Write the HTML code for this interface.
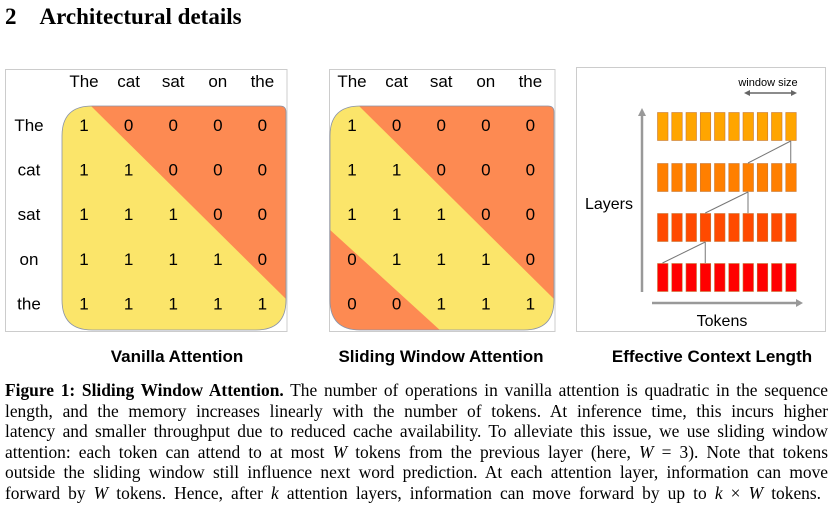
<!DOCTYPE html>
<html><head><meta charset="utf-8"><style>
body{margin:0;width:838px;height:521px;background:#fff;position:relative;overflow:hidden;font-family:"Liberation Sans",sans-serif}
.h{position:absolute;left:5px;top:4px;font:bold 23px "Liberation Serif",serif}
.cap{position:absolute;left:5px;top:380px;width:823px;font:17.4px/20.6px "Liberation Serif",serif}
.cap div{text-align:justify;text-align-last:justify;white-space:nowrap}
.t{position:absolute;font-weight:bold;font-size:17px;transform:translateX(-50%);white-space:nowrap}
</style></head><body>
<div class="h">2&nbsp;&nbsp;&nbsp;&nbsp;Architectural details</div>
<svg width="838" height="345" style="position:absolute;left:0;top:0" id="fig" font-family="Liberation Sans, sans-serif"></svg>
<div class="t" style="left:177px;top:347px">Vanilla Attention</div>
<div class="t" style="left:441px;top:347px">Sliding Window Attention</div>
<div class="t" style="left:712px;top:347px">Effective Context Length</div>
<div class="cap">
<div><b>Figure 1: Sliding Window Attention.</b> The number of operations in vanilla attention is quadratic in the sequence</div>
<div>length, and the memory increases linearly with the number of tokens. At inference time, this incurs higher</div>
<div>latency and smaller throughput due to reduced cache availability. To alleviate this issue, we use sliding window</div>
<div>attention: each token can attend to at most <i>W</i> tokens from the previous layer (here, <i>W</i> = 3). Note that tokens</div>
<div>outside the sliding window still influence next word prediction. At each attention layer, information can move</div>
<div style="width:816px">forward by <i>W</i> tokens. Hence, after <i>k</i> attention layers, information can move forward by up to <i>k</i> × <i>W</i> tokens.</div>
</div>
<script>
const tokens=["The","cat","sat","on","the"];
const vanilla=[[1,0,0,0,0],[1,1,0,0,0],[1,1,1,0,0],[1,1,1,1,0],[1,1,1,1,1]];
const sliding=[[1,0,0,0,0],[1,1,0,0,0],[1,1,1,0,0],[0,1,1,1,0],[0,0,1,1,1]];
const layerColors=["#ffa500","#ff7f00","#ff4a00","#ff0000"];
const nTok=10;
const svg=document.getElementById('fig');const NS='http://www.w3.org/2000/svg';
function mk(t,a,txt){const e=document.createElementNS(NS,t);for(const k in a)e.setAttribute(k,a[k]);if(txt!=null)e.textContent=txt;svg.appendChild(e);return e;}
function matrix(ox,vals,name,showRows){
  const x0=ox, y0=106, s=224, cw=44.6, R=30, r2=6;
  const bl=showRows?5.5:ox-0.5;
  const b=mk('rect',{x:bl,y:69.5,width:ox+s-bl+1,height:262,fill:'#fff',stroke:'#ccc'});
  
  const d=`M${x0+R},${y0} L${x0+s-r2},${y0} Q${x0+s},${y0} ${x0+s},${y0+r2} L${x0+s},${y0+s-R} Q${x0+s},${y0+s} ${x0+s-R},${y0+s} L${x0+R},${y0+s} Q${x0},${y0+s} ${x0},${y0+s-R} L${x0},${y0+R} Q${x0},${y0} ${x0+R},${y0} Z`;
  const cp=mk('clipPath',{id:'c'+name});const r=document.createElementNS(NS,'path');r.setAttribute('d',d);cp.appendChild(r);
  const bg=mk('path',{d:d,fill:'#fbe56a'});
  
  mk('polygon',{points:`${x0+29},${y0} ${x0+s+2},${y0} ${x0+s+2},${y0+s-29}`,fill:'#fd8a52','clip-path':`url(#c${name})`});
  if(vals[4][0]===0){mk('polygon',{points:`${x0-2},${y0+122} ${x0-2},${y0+s+2} ${x0+112},${y0+s+2}`,fill:'#fd8a52','clip-path':`url(#c${name})`});}
  mk('path',{d:d,fill:'none',stroke:'#8a93a8','stroke-width':0.8});
  for(let j=0;j<5;j++){const h=mk('text',{x:x0+22+j*cw,y:87,'font-size':17,'text-anchor':'middle'},tokens[j]);
    }
  for(let i=0;i<5;i++){
    if(showRows){const l=mk('text',{x:29,y:y0+25+i*cw,'font-size':17,'text-anchor':'middle'},tokens[i]);
      }
    for(let j=0;j<5;j++){const c=mk('text',{x:x0+22+j*cw,y:y0+25+i*cw,'font-size':17,'text-anchor':'middle'},vals[i][j]);
      }
  }
}
matrix(62,vanilla,'vanilla',true);
matrix(330,sliding,'sliding',false);
const p=mk('rect',{x:576.5,y:67.5,width:249,height:264,fill:'#fff',stroke:'#ccc'});

const rowY=[112,163,213,263];
const bx=j=>657+j*14.25;
layerColors.forEach((c,li)=>{for(let j=0;j<nTok;j++){const r=mk('rect',{x:bx(j)+0.5,y:rowY[li]+0.5,width:10.5,height:28,fill:c,stroke:'#c77a3a','stroke-width':0.6});
  }});
const path=[9,6,3,0];
for(let l=0;l<3;l++){const xa=bx(path[l])+5.5,xb=bx(path[l+1])+5.5,yb=rowY[l]+29,yt=rowY[l+1];
  mk('line',{x1:xa,y1:yb,x2:xa,y2:yt,stroke:'#777'});mk('line',{x1:xa,y1:yb,x2:xb,y2:yt,stroke:'#777'});}
mk('line',{x1:642,y1:292,x2:642,y2:114,stroke:'#999','stroke-width':2.5});
mk('polygon',{points:'638,116 646,116 642,108',fill:'#999'});
mk('line',{x1:652,y1:303,x2:798,y2:303,stroke:'#999','stroke-width':2.5});
mk('polygon',{points:'796,299 796,307 803,303',fill:'#999'});
mk('line',{x1:748,y1:93,x2:792,y2:93,stroke:'#666','stroke-width':1.5});
mk('polygon',{points:'744,93 750,90 750,96',fill:'#666'});mk('polygon',{points:'797,93 791,90 791,96',fill:'#666'});
const ws=mk('text',{x:768,y:86,'font-size':11,'text-anchor':'middle'},'window size');
const ly=mk('text',{x:609,y:209,'font-size':16,'text-anchor':'middle'},'Layers');
const tk=mk('text',{x:722,y:326,'font-size':16,'text-anchor':'middle'},'Tokens');
</script>
</body></html>
